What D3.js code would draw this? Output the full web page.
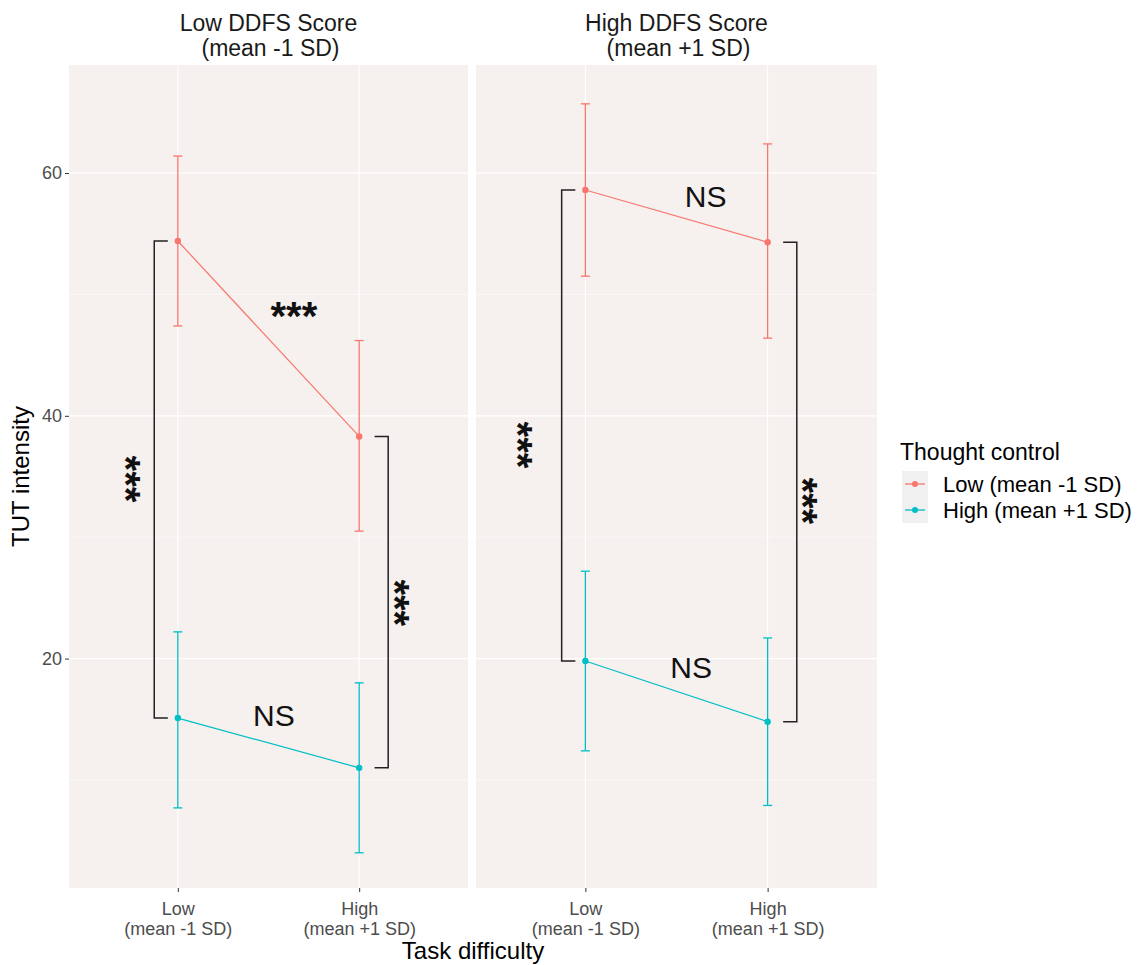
<!DOCTYPE html>
<html>
<head>
<meta charset="utf-8">
<script src="https://cdn.jsdelivr.net/npm/d3@7"></script>
<style>
  body { margin: 0; background: #fff; }
  text { font-family: "Liberation Sans", Arial, sans-serif; }
</style>
</head>
<body>
<script>
// facets / categories
var facetTitles = ["Low DDFS Score", "High DDFS Score"];
var facetSubtitles = ["(mean -1 SD)", "(mean +1 SD)"];
var difficulty = ["Low", "High"];
var difficultySub = ["(mean -1 SD)", "(mean +1 SD)"];
var controlLevels = ["Low (mean -1 SD)", "High (mean +1 SD)"];
var controlColors = ["#F8766D", "#00BFC4"];

// values per facet, [Low difficulty, High difficulty]
var lowTcMean  = [[54.4, 38.3], [58.6, 54.3]];
var lowTcLower = [[47.4, 30.5], [51.5, 46.4]];
var lowTcUpper = [[61.4, 46.2], [65.7, 62.4]];
var highTcMean  = [[15.1, 11.0], [19.8, 14.8]];
var highTcLower = [[7.7, 4.0], [12.4, 7.9]];
var highTcUpper = [[22.2, 18.0], [27.2, 21.7]];

var yTicks = [20, 40, 60];

// significance annotations (x in category units: Low=1, High=2)
var brackets = [
  {facet: 0, side: "left",  at: 1, y1: 54.4, y2: 15.1},
  {facet: 0, side: "right", at: 2, y1: 38.3, y2: 11.0},
  {facet: 1, side: "left",  at: 1, y1: 58.6, y2: 19.8},
  {facet: 1, side: "right", at: 2, y1: 54.3, y2: 14.8}
];
var sigLabels = [
  {facet: 0, x: 1.64, y: 49.0, text: "***", angle: 0},
  {facet: 0, x: 1.53, y: 15.3, text: "NS",  angle: 0},
  {facet: 0, x: 0.765, y: 34.8, text: "***", angle: 90},
  {facet: 0, x: 2.25, y: 24.6, text: "***", angle: 90},
  {facet: 1, x: 1.66, y: 58.1, text: "NS",  angle: 0},
  {facet: 1, x: 1.58, y: 19.3, text: "NS",  angle: 0},
  {facet: 1, x: 0.68, y: 37.6, text: "***", angle: 90},
  {facet: 1, x: 2.245, y: 33.0, text: "***", angle: 90}
];

var width = 1137, height = 965;
var panelTop = 65, panelBottom = 888;
var panels = [[69, 468], [476, 877]];

var svg = d3.select("body").append("svg")
    .attr("width", width)
    .attr("height", height);

var y = d3.scaleLinear().domain([1.1, 68.9]).range([panelBottom, panelTop]);

var series = [
  {mean: lowTcMean, lower: lowTcLower, upper: lowTcUpper, color: controlColors[0]},
  {mean: highTcMean, lower: highTcLower, upper: highTcUpper, color: controlColors[1]}
];

panels.forEach(function(p, f) {
  var x = d3.scaleLinear().domain([0.4, 2.6]).range(p);
  var g = svg.append("g");

  g.append("rect")
    .attr("x", p[0]).attr("y", panelTop)
    .attr("width", p[1] - p[0]).attr("height", panelBottom - panelTop)
    .attr("fill", "#f6f0ee");

  // minor + major grid
  [10, 30, 50].forEach(function(v) {
    g.append("line").attr("x1", p[0]).attr("x2", p[1])
      .attr("y1", y(v)).attr("y2", y(v))
      .attr("stroke", "#fff").attr("stroke-width", 0.6);
  });
  yTicks.forEach(function(v) {
    g.append("line").attr("x1", p[0]).attr("x2", p[1])
      .attr("y1", y(v)).attr("y2", y(v))
      .attr("stroke", "#fff").attr("stroke-width", 1.2);
  });
  [1, 2].forEach(function(v) {
    g.append("line").attr("x1", x(v)).attr("x2", x(v))
      .attr("y1", panelTop).attr("y2", panelBottom)
      .attr("stroke", "#fff").attr("stroke-width", 1.2);
  });

  // strip titles
  g.append("text").attr("x", (p[0] + p[1]) / 2).attr("y", 31)
    .attr("text-anchor", "middle").attr("font-size", 23).attr("fill", "#1a1a1a")
    .text(facetTitles[f]);
  g.append("text").attr("x", (p[0] + p[1]) / 2 + 2).attr("y", 56)
    .attr("text-anchor", "middle").attr("font-size", 23).attr("fill", "#1a1a1a")
    .text(facetSubtitles[f]);

  // x axis
  var xAxis = d3.axisBottom(x).tickValues([1, 2]).tickSize(4).tickFormat("");
  var ax = g.append("g").attr("transform", "translate(0," + panelBottom + ")").call(xAxis);
  ax.select(".domain").remove();
  ax.selectAll(".tick line").attr("stroke", "#333").attr("stroke-width", 1);
  ax.selectAll(".tick").each(function(d, i) {
    var t = d3.select(this).append("text")
      .attr("fill", "#4d4d4d").attr("font-size", 18).attr("text-anchor", "middle");
    t.append("tspan").attr("x", 0).attr("y", 27).text(difficulty[i]);
    t.append("tspan").attr("x", 0).attr("y", 47).text(difficultySub[i]);
  });

  // error bars, lines, points
  series.forEach(function(s) {
    var pts = [1, 2].map(function(c, i) {
      return {x: c, m: s.mean[f][i], lo: s.lower[f][i], hi: s.upper[f][i]};
    });
    var cap = 4.5;
    pts.forEach(function(d) {
      g.append("line").attr("x1", x(d.x)).attr("x2", x(d.x))
        .attr("y1", y(d.lo)).attr("y2", y(d.hi))
        .attr("stroke", s.color).attr("stroke-width", 1.3);
      [d.lo, d.hi].forEach(function(v) {
        g.append("line").attr("x1", x(d.x) - cap).attr("x2", x(d.x) + cap)
          .attr("y1", y(v)).attr("y2", y(v))
          .attr("stroke", s.color).attr("stroke-width", 1.3);
      });
    });
    g.append("path").datum(pts)
      .attr("fill", "none").attr("stroke", s.color).attr("stroke-width", 1.2)
      .attr("d", d3.line().x(function(d) { return x(d.x); }).y(function(d) { return y(d.m); }));
    g.selectAll(null).data(pts).enter().append("circle")
      .attr("cx", function(d) { return x(d.x); })
      .attr("cy", function(d) { return y(d.m); })
      .attr("r", 3.2).attr("fill", s.color);
  });

  // brackets
  brackets.filter(function(b) { return b.facet === f; }).forEach(function(b) {
    var tip, bar;
    if (b.side === "left") { tip = b.at - 0.055; bar = b.at - 0.13; }
    else { tip = b.at + 0.085; bar = b.at + 0.16; }
    g.append("path")
      .attr("d", "M" + x(tip) + "," + y(b.y1) + "H" + x(bar) + "V" + y(b.y2) + "H" + x(tip))
      .attr("fill", "none").attr("stroke", "#222").attr("stroke-width", 1.5);
  });

  // labels
  sigLabels.filter(function(l) { return l.facet === f; }).forEach(function(l) {
    var star = l.text === "***";
    g.append("text")
      .attr("transform", "translate(" + x(l.x) + "," + y(l.y) + ") rotate(" + l.angle + ")")
      .attr("text-anchor", "middle")
      .attr("dy", star ? "0.58em" : "0.36em")
      .attr("font-size", star ? 40 : 30)
      .attr("font-weight", star ? "bold" : "normal")
      .attr("fill", "#111")
      .text(l.text);
  });
});

// y axis (left panel)
var yAxis = d3.axisLeft(y).tickValues(yTicks).tickSize(4).tickPadding(3);
var yg = svg.append("g").attr("transform", "translate(" + panels[0][0] + ",0)").call(yAxis);
yg.select(".domain").remove();
yg.selectAll(".tick line").attr("stroke", "#333");
yg.selectAll(".tick text").attr("fill", "#4d4d4d").attr("font-size", 18)
  .attr("font-family", "Liberation Sans, Arial, sans-serif");

// axis titles
svg.append("text")
  .attr("transform", "translate(29," + (panelTop + panelBottom) / 2 + ") rotate(-90)")
  .attr("text-anchor", "middle").attr("font-size", 24).attr("fill", "#000")
  .text("TUT intensity");
svg.append("text")
  .attr("x", (panels[0][0] + panels[1][1]) / 2).attr("y", 959)
  .attr("text-anchor", "middle").attr("font-size", 24).attr("fill", "#000")
  .text("Task difficulty");

// legend
var legend = svg.append("g").attr("transform", "translate(900,0)");
legend.append("text").attr("x", 0).attr("y", 460)
  .attr("font-size", 23).attr("fill", "#000").text("Thought control");
controlLevels.forEach(function(lbl, i) {
  var cy = 484 + i * 26;
  legend.append("rect").attr("x", 2).attr("y", cy - 13)
    .attr("width", 26).attr("height", 26).attr("fill", "#f0f0f0");
  legend.append("line").attr("x1", 5).attr("x2", 25).attr("y1", cy).attr("y2", cy)
    .attr("stroke", controlColors[i]).attr("stroke-width", 1.3);
  legend.append("circle").attr("cx", 15).attr("cy", cy).attr("r", 3).attr("fill", controlColors[i]);
  legend.append("text").attr("x", 43).attr("y", cy + 8)
    .attr("font-size", 22).attr("fill", "#000").text(lbl);
});
</script>
</body>
</html>
